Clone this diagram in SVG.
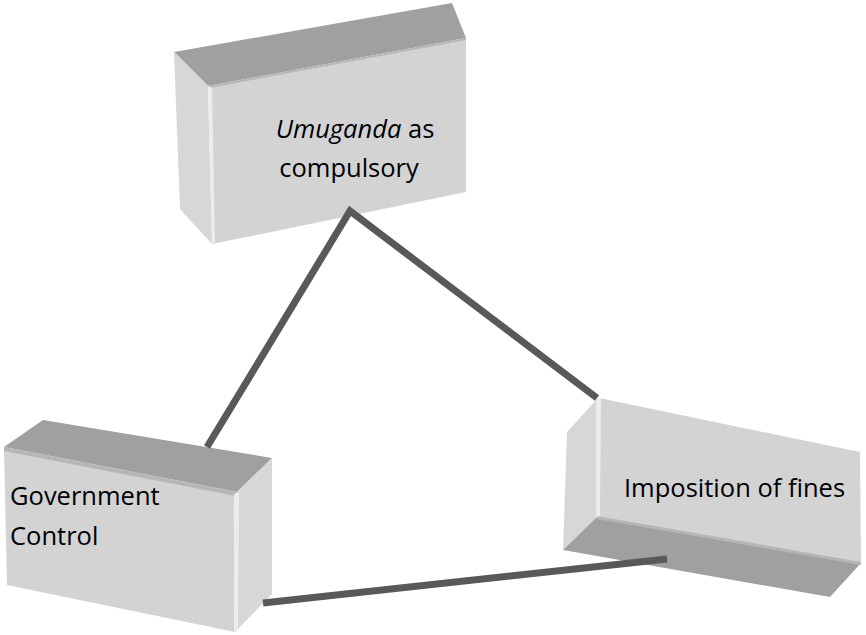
<svg xmlns="http://www.w3.org/2000/svg" width="866" height="635" viewBox="0 0 866 635">
  <style>
    .front { fill: #d3d3d3; }
    .side { fill: #d7d7d7; }
    .dark { fill: #a0a0a0; }
    .rim { fill: #b6b6b6; }
    .shine { fill: #ececec; }
    .label { font-family: "Open Sans", "Liberation Sans", sans-serif; font-size: 25.5px; fill: #000000; }
    .link { fill: none; stroke: #595959; stroke-width: 7; stroke-linejoin: miter; stroke-miterlimit: 10; }
  </style>

  <rect width="866" height="635" fill="#ffffff"/>

  <!-- Box: Umuganda as compulsory -->
  <g id="umuganda">
    <polygon class="dark" points="174,52 452,3 466,38 208,86"/>
    <polygon class="rim" points="208,86 466,38 466,42 210,90"/>
    <polygon class="side" points="174,52 208,86 212,244 180,209"/>
    <polygon class="front" points="209,88 466,40 466,192 212,244"/>
    <polygon class="shine" points="208,86 212,88 215,243 212,244"/>
    <text class="label" x="355" y="138" text-anchor="middle"><tspan font-style="italic">Umuganda</tspan> as</text>
    <text class="label" x="349" y="177" text-anchor="middle">compulsory</text>
  </g>

  <!-- Box: Government Control -->
  <g id="government">
    <polygon class="dark" points="43,420 272,458 237,492 4,447"/>
    <polygon class="rim" points="4,447 237,492 236,497 4,452"/>
    <polygon class="side" points="237,492 272,458 272,594 235,632"/>
    <polygon class="front" points="4,451 236,496 235,632 7,585"/>
    <polygon class="shine" points="234,494 239,492 238,631 234,632"/>
    <text class="label" x="10" y="505">Government</text>
    <text class="label" x="10" y="545">Control</text>
  </g>

  <!-- Box: Imposition of fines -->
  <g id="fines">
    <polygon class="side" points="598,398 567,432 563,550 597,517"/>
    <polygon class="dark" points="597,517 861,563 830,597 563,550"/>
    <polygon class="rim" points="597,514 861,560 861,565 597,519"/>
    <polygon class="front" points="599,398 860,452 861,562 597,516"/>
    <polygon class="shine" points="596,398 601,398 600,516 596,517"/>
    <text class="label" x="624" y="497">Imposition of fines</text>
  </g>

  <!-- Connectors -->
  <g id="connectors">
    <polyline class="link" points="207,447 350,211 597,398"/>
    <line class="link" x1="263" y1="603" x2="667" y2="559"/>
  </g>
</svg>
